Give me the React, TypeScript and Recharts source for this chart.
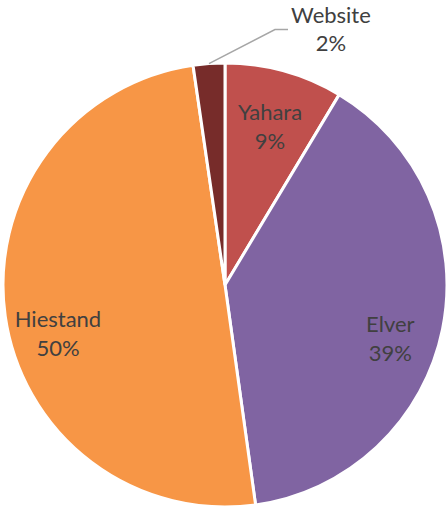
import React from 'react'
import { PieChart, Pie, Cell } from 'recharts'

const names = ['Yahara', 'Elver', 'Hiestand', 'Website']
const shares = [8.6, 39.2, 49.9, 2.3]
const colors = ['#C0504D', '#8064A2', '#F79646', '#772C2A']
// small vertical nudges so labels sit where the original put them
const labelNudge: Record<string, number> = { Yahara: 4, Elver: 19, Hiestand: 24 }

const data = names.map((name, i) => ({ name, value: shares[i] }))

const RAD = Math.PI / 180
const FONT = 'Lato, "Liberation Sans", sans-serif'

function renderLabel(props: any) {
  const { cx, cy, midAngle, outerRadius, percent, name } = props
  const pct = `${Math.round(percent * 100)}%`
  if (name === 'Website') {
    // outside label with a leader line
    const sx = cx + outerRadius * Math.cos(-midAngle * RAD)
    const sy = cy + outerRadius * Math.sin(-midAngle * RAD)
    const ex = sx + 66
    const ey = sy - 34
    return (
      <g>
        <polyline
          points={`${sx},${sy} ${ex},${ey} ${ex + 13},${ey}`}
          fill="none"
          stroke="#A6A6A6"
          strokeWidth={1.5}
        />
        <text x={ex + 56} y={ey - 7} textAnchor="middle" fill="#404040" fontSize={22} fontFamily={FONT}>
          <tspan x={ex + 56} dy={0}>{name}</tspan>
          <tspan x={ex + 56} dy={28}>{pct}</tspan>
        </text>
      </g>
    )
  }
  const r = outerRadius * 0.76
  const x = cx + r * Math.cos(-midAngle * RAD)
  const y = cy + r * Math.sin(-midAngle * RAD) + (labelNudge[name] || 0)
  return (
    <text x={x} y={y} textAnchor="middle" fill="#404040" fontSize={22} fontFamily={FONT}>
      <tspan x={x} dy={-6}>{name}</tspan>
      <tspan x={x} dy={29}>{pct}</tspan>
    </text>
  )
}

export default function App() {
  return (
    <div style={{ position: 'absolute', left: 0, top: 0, width: 447, height: 508, background: '#fff' }}>
      <PieChart width={447} height={508} margin={{ top: 0, right: 0, bottom: 0, left: 0 }}>
        <Pie
          data={data}
          dataKey="value"
          nameKey="name"
          cx={225}
          cy={285}
          outerRadius={222}
          startAngle={90}
          endAngle={-270}
          stroke="#fff"
          strokeWidth={3}
          label={renderLabel}
          labelLine={false}
          isAnimationActive={false}
        >
          {data.map((entry, index) => (
            <Cell key={`cell-${index}`} fill={colors[index]} />
          ))}
        </Pie>
      </PieChart>
    </div>
  )
}
